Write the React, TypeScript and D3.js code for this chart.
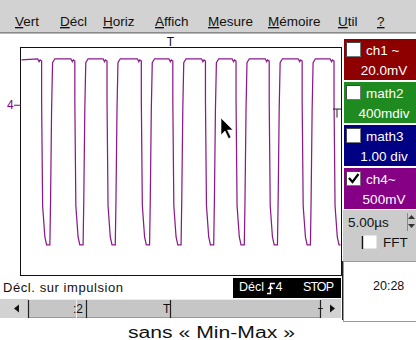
import React from "react";
import * as d3 from "d3";

// ---- data ----
const fallTimesUs = [3.22, 8.41, 13.44, 18.8, 23.72, 28.82, 33.6, 38.78, 43.93, 48.91];
const pulseOffsetsUs = [-0.62, -0.39, -0.23, 0, 0, 0.16, 0.51, 0.78, 1.29, 1.4, 1.56, 1.71, 2.07];
const pulseVolts = [0.81, 0.76, 0.79, 0.77, 0.08, -1.78, -2.33, -2.47, -2.47, -1.68, -0.09, 0.74, 0.81];
const traceStartV = 0.79;

const timeDomainUs = [0, 50];
const voltDomain = [-3, 1];
const triggerTimeUs = 23.35;
const triggerLevelV = -0.12;
const groundV = 0;

const menuLabels = ["Vert", "Décl", "Horiz", "Affich", "Mesure", "Mémoire", "Util", "?"];
const channelNames = ["ch1 ~", "math2", "math3", "ch4~"];
const channelScales = ["20.0mV", "400mdiv", "1.00 div", "500mV"];
const channelColors = ["#8e0000", "#1f8a1f", "#000083", "#850085"];
const channelChecked = [false, false, false, true];
const timebaseLabel = "5.00µs";
const clockLabel = "20:28";
const statusText = "Décl. sur impulsion";
const caption = "sans « Min-Max »";

const FONT = "'Liberation Sans', Arial, Helvetica, sans-serif";

export default function App() {
  const W = 416;
  const H = 340;
  const plot = { left: 21, top: 48, right: 341, bottom: 275 };
  const x = d3.scaleLinear().domain(timeDomainUs).range([plot.left, plot.right]);
  const y = d3.scaleLinear().domain(voltDomain).range([plot.bottom, plot.top]);

  const pts: [number, number][] = [[timeDomainUs[0], traceStartV]];
  fallTimesUs.forEach((t) => pulseOffsetsUs.forEach((o, i) => pts.push([t + o, pulseVolts[i]])));
  const line = d3.line<[number, number]>().x((d) => x(d[0])).y((d) => y(d[1]));

  const menuX = [15, 60, 103, 155, 208, 268, 338, 377];
  const boxTop = [39, 82, 125, 168];
  const gy = y(groundV);
  const ty = y(triggerLevelV);

  return (
    <svg
      width={W}
      height={H}
      style={{ position: "absolute", left: 0, top: 0, background: "#fff", fontFamily: FONT }}
    >
      <defs>
        <clipPath id="plotclip">
          <rect x={plot.left + 0.5} y={plot.top + 0.5} width={plot.right - plot.left - 1} height={plot.bottom - plot.top - 1} />
        </clipPath>
      </defs>
      <rect x={0} y={0} width={W} height={H} fill="#fff" />

      {/* menu bar */}
      <rect x={0} y={0} width={W} height={32} fill="#d2d2d2" />
      <line x1={0} x2={W} y1={32.5} y2={32.5} stroke="#8a8a8a" />
      <line x1={0} x2={W} y1={33.5} y2={33.5} stroke="#b8b8b8" />
      {menuLabels.map((m, i) => (
        <text key={m} x={menuX[i]} y={26} fontSize={13.5} fill="#111">
          <tspan style={{ textDecoration: "underline" }}>{m[0]}</tspan>
          {m.slice(1)}
        </text>
      ))}

      {/* trigger time marker */}
      <text x={x(triggerTimeUs)} y={46} fontSize={12} textAnchor="middle" fill="#111">T</text>

      {/* plot box */}
      <rect
        x={plot.left - 0.5}
        y={plot.top - 0.5}
        width={plot.right - plot.left + 1}
        height={plot.bottom - plot.top + 1}
        fill="#fff"
        stroke="#111"
        strokeWidth={1}
      />
      <path d={line(pts) || ""} fill="none" stroke="#8a1a8a" strokeWidth={1.25} clipPath="url(#plotclip)" />

      {/* channel 4 ground marker */}
      <text x={7} y={gy + 4.5} fontSize={12} fill="#850085">4</text>
      <line x1={14} x2={plot.left} y1={gy + 0.5} y2={gy + 0.5} stroke="#850085" />

      {/* trigger level marker */}
      <line x1={333} x2={341} y1={ty - 2.5} y2={ty - 2.5} stroke="#222" />
      <line x1={337} x2={337} y1={ty - 2.5} y2={ty + 6} stroke="#222" />

      {/* mouse cursor */}
      <path
        d="M221,118 L221,135 L225,131 L228.5,138.5 L231,137.5 L227.5,130 L233,130 Z"
        fill="#000"
        stroke="#fff"
        strokeWidth={0.6}
      />

      {/* channel boxes */}
      {channelNames.map((n, i) => (
        <g key={n}>
          <rect x={344} y={boxTop[i]} width={W - 344} height={41} fill={channelColors[i]} />
          <rect x={346.5} y={boxTop[i] + 3.5} width={14} height={14} fill="#fff" stroke="#777" />
          <line x1={346.5} x2={360.5} y1={boxTop[i] + 3.5} y2={boxTop[i] + 3.5} stroke="#444" />
          <line x1={346.5} x2={346.5} y1={boxTop[i] + 3.5} y2={boxTop[i] + 17.5} stroke="#444" />
          {channelChecked[i] && (
            <path
              d={`M349,${boxTop[i] + 10} L352.5,${boxTop[i] + 14} L358.5,${boxTop[i] + 6}`}
              fill="none"
              stroke="#000"
              strokeWidth={2.2}
            />
          )}
          <text x={366} y={boxTop[i] + 16} fontSize={13.5} fill="#fff">{n}</text>
          <text x={384} y={boxTop[i] + 36} fontSize={13.5} fill="#fff" textAnchor="middle">{channelScales[i]}</text>
        </g>
      ))}

      {/* timebase panel */}
      <rect x={343} y={210} width={W - 343} height={52} fill="#cbcbcb" />
      <text x={348} y={227} fontSize={13.5} fill="#111">{timebaseLabel}</text>
      <path d="M408,219 L411.5,215 L415,219 Z" fill="#333" />
      <path d="M408,224 L411.5,228 L415,224 Z" fill="#333" />
      <line x1={407.5} x2={407.5} y1={213} y2={231} stroke="#888" />
      <line x1={362.5} x2={362.5} y1={236} y2={249} stroke="#111" strokeWidth={1.5} />
      <rect x={363.5} y={235.5} width={13} height={13} fill="#fff" />
      <text x={383} y={247} fontSize={13.5} fill="#111">FFT</text>

      {/* clock box */}
      <rect x={343.5} y={261.5} width={W - 343} height={60} fill="#fff" stroke="#999" />
      <line x1={342.5} x2={342.5} y1={261} y2={320} stroke="#222" />
      <text x={373} y={290} fontSize={12.5} fill="#111">{clockLabel}</text>

      {/* status line */}
      <text x={3} y={292} fontSize={13} fill="#111" textLength={120} lengthAdjust="spacing">{statusText}</text>
      <rect x={233} y={278} width={108} height={20} fill="#000" />
      <text x={239} y={291} fontSize={12.5} fill="#fff">Décl</text>
      <path d="M267,293.5 H270.5 V283.5 H275" fill="none" stroke="#fff" strokeWidth={1.3} />
      <path d="M267.5,289 L270.5,285.5 L273.5,289 Z" fill="#fff" />
      <text x={275.5} y={291} fontSize={12.5} fill="#fff">4</text>
      <text x={303} y={291} fontSize={12.5} fill="#fff" textLength={31} lengthAdjust="spacing">STOP</text>

      {/* scroll bar */}
      <rect x={0} y={299} width={341} height={19} fill="#c6c6c6" />
      <line x1={0} x2={341} y1={299.5} y2={299.5} stroke="#ececec" />
      <line x1={0} x2={341} y1={317.5} y2={317.5} stroke="#9a9a9a" />
      <rect x={0} y={299} width={28} height={19} fill="#d2d2d2" />
      <path d="M14,308.5 L19,304.5 L19,312.5 Z" fill="#111" />
      <rect x={321} y={299} width={20} height={19} fill="#d2d2d2" />
      <path d="M335,308.5 L330,304.5 L330,312.5 Z" fill="#111" />
      <line x1={28.5} x2={28.5} y1={300} y2={318} stroke="#222" strokeWidth={1.2} />
      <line x1={76.5} x2={76.5} y1={300} y2={318} stroke="#eee" />
      <text x={73} y={313} fontSize={12} fill="#111">:2</text>
      <line x1={86.5} x2={86.5} y1={300} y2={318} stroke="#222" strokeWidth={1.2} />
      <text x={163} y={313} fontSize={12} fill="#111">T</text>
      <line x1={170.5} x2={170.5} y1={300} y2={318} stroke="#222" strokeWidth={1.2} />
      <line x1={320.5} x2={320.5} y1={300} y2={318} stroke="#222" strokeWidth={1.2} />
      <line x1={318} x2={323} y1={308.5} y2={308.5} stroke="#222" />

      {/* caption */}
      <text x={128} y={338} fontSize={16} fill="#111" textLength={167} lengthAdjust="spacingAndGlyphs">{caption}</text>
    </svg>
  );
}
